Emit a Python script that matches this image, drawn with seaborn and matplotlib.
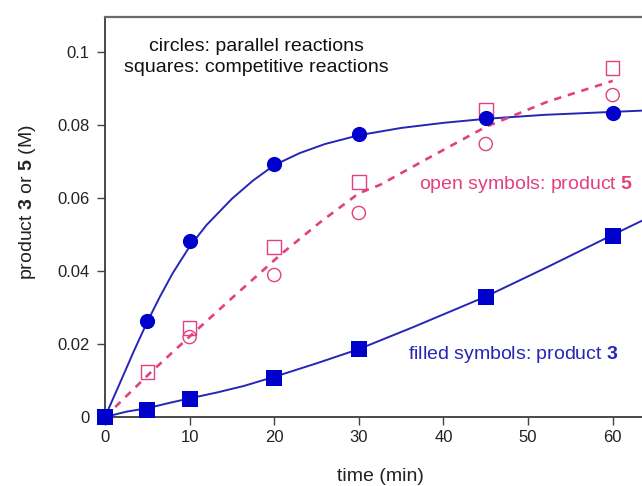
import numpy as np
import pandas as pd
import seaborn as sns
import matplotlib.pyplot as plt

# measured points (time in min, concentration in M)
t_par = [0, 5, 10, 20, 30, 45, 60]
p3_par = [0.0, 0.0263, 0.0482, 0.0693, 0.0775, 0.0819, 0.0833]
t_par5 = [10, 20, 30, 45, 60]
p5_par = [0.0219, 0.0389, 0.0559, 0.0748, 0.0882]

t_comp = [0, 5, 10, 20, 30, 45, 60]
p3_comp = [0.0, 0.0019, 0.0049, 0.0107, 0.0186, 0.0329, 0.0496]
t_comp5 = [5, 10, 20, 30, 45, 60]
p5_comp = [0.0123, 0.0244, 0.0466, 0.0644, 0.0841, 0.0956]

# fitted curves
t_fit_par3 = [0, 1.8, 3.4, 5, 6.5, 8, 10, 12, 15, 17.5, 20, 23, 26, 30, 35, 40, 45, 52, 60, 65]
fit_par3 = [0.0, 0.0095, 0.0180, 0.0261, 0.0330, 0.0394, 0.0467, 0.0526, 0.0598, 0.0648,
            0.0690, 0.0723, 0.0748, 0.0772, 0.0792, 0.0806, 0.0817, 0.0828, 0.0836, 0.0841]
t_fit_comp3 = [0, 2.6, 5, 7.3, 10, 13.2, 16.4, 20, 25, 30, 36.5, 45, 52.3, 60, 65]
fit_comp3 = [0.0, 0.0015, 0.0024, 0.0037, 0.0051, 0.0067, 0.0085, 0.0110, 0.0147,
             0.0186, 0.0247, 0.0330, 0.0411, 0.0499, 0.0555]
t_fit_p5 = [0, 5.3, 10.4, 15.2, 20.9, 25.5, 30, 32.5, 38.5, 45, 52.3, 60]
fit_p5 = [0.0, 0.0120, 0.0229, 0.0330, 0.0448, 0.0535, 0.0613, 0.0636, 0.0713,
          0.0795, 0.0864, 0.0921]

blue = '#0000cc'
blue_line = '#2626b4'
pink = '#e2407e'

sns.set_style('ticks')
plt.rcParams['font.family'] = ['Liberation Sans', 'DejaVu Sans']
plt.rcParams['mathtext.fontset'] = 'custom'
plt.rcParams['mathtext.rm'] = 'Liberation Sans'
plt.rcParams['mathtext.bf'] = 'Liberation Sans:bold'

fig = plt.figure(figsize=(6.42, 4.86), dpi=100)
# the plot area runs past the right edge of the image, as in the original
ax = fig.add_axes([105 / 642, 1 - 417 / 486, 550 / 642, 400 / 486])

# curves
sns.lineplot(x=t_fit_par3, y=fit_par3, ax=ax, color=blue_line, lw=1.4)
sns.lineplot(x=t_fit_comp3, y=fit_comp3, ax=ax, color=blue_line, lw=1.4)
sns.lineplot(x=t_fit_p5, y=fit_p5, ax=ax, color=pink, lw=1.9, linestyle=(0, (2.8, 2.6)))

# open symbols: product 5
sns.scatterplot(x=t_par5, y=p5_par, ax=ax, marker='o', s=90, facecolor='none',
                edgecolor=pink, linewidth=1.0, clip_on=False, zorder=4)
sns.scatterplot(x=t_comp5, y=p5_comp, ax=ax, marker='s', s=95, facecolor='none',
                edgecolor=pink, linewidth=1.0, clip_on=False, zorder=4)

# filled symbols: product 3
sns.scatterplot(x=t_par, y=p3_par, ax=ax, marker='o', s=120, color=blue,
                linewidth=0, clip_on=False, zorder=5)
sns.scatterplot(x=t_comp, y=p3_comp, ax=ax, marker='s', s=120, color=blue,
                linewidth=0, clip_on=False, zorder=5)

ax.set_xlim(0, 65)
ax.set_ylim(0, 0.1096)
ax.set_xticks([0, 10, 20, 30, 40, 50, 60])
ax.set_yticks([0, 0.02, 0.04, 0.06, 0.08, 0.1])
ax.set_yticklabels(['0', '0.02', '0.04', '0.06', '0.08', '0.1'])
ax.tick_params(axis='both', direction='out', length=6, width=1.0, colors='#444444',
               labelsize=12, labelcolor='#222222')
ax.tick_params(axis='y', pad=5)
ax.tick_params(axis='x', pad=3)

for side in ['left', 'bottom']:
    ax.spines[side].set_color('#3a3a3a')
    ax.spines[side].set_linewidth(1.3)
ax.spines['top'].set_color('#6a6a6a')
ax.spines['top'].set_linewidth(1.6)
ax.spines['right'].set_visible(False)

ax.set_xlabel('time (min)', fontsize=14, color='#222222')
ax.set_ylabel(r'product $\mathbf{3}$ or $\mathbf{5}$ (M)', fontsize=14, color='#222222')
ax.xaxis.set_label_coords(0.5, -0.127)
ax.yaxis.set_label_coords(-0.122, 0.5375)

ax.text(17.9, 0.1014, 'circles: parallel reactions', ha='center', va='center',
        fontsize=14, color='#111111')
ax.text(17.9, 0.0959, 'squares: competitive reactions', ha='center', va='center',
        fontsize=14, color='#111111')
ax.text(62.4, 0.0636, r'open symbols: product $\mathbf{5}$', ha='right', va='center',
        fontsize=14, color=pink)
ax.text(60.7, 0.0170, r'filled symbols: product $\mathbf{3}$', ha='right', va='center',
        fontsize=14, color=blue_line)

fig.savefig('out.png', dpi=100)
